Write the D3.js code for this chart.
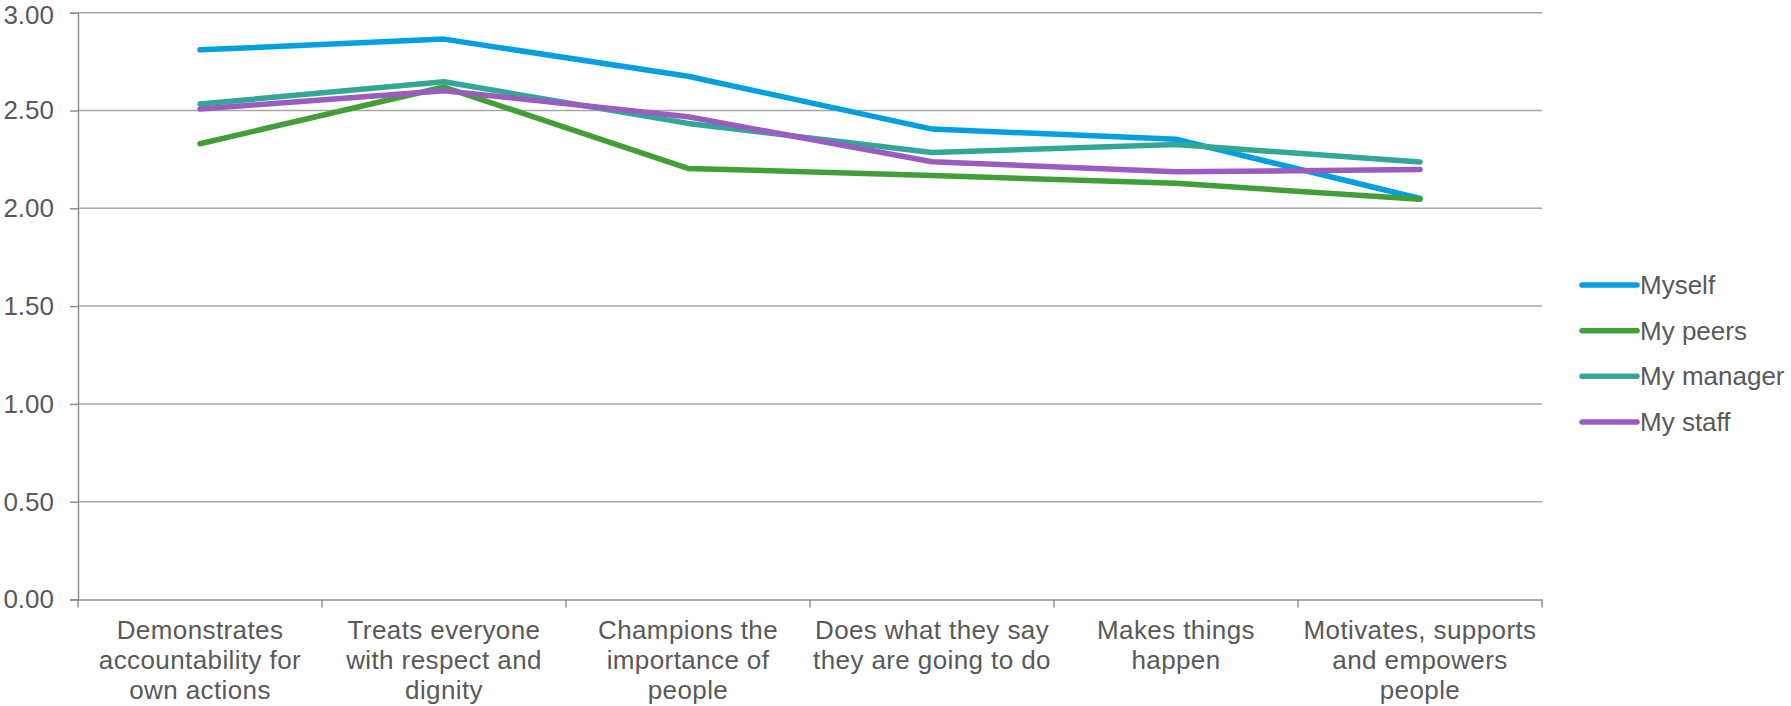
<!DOCTYPE html>
<html>
<head>
<meta charset="utf-8">
<script src="https://cdn.jsdelivr.net/npm/d3@7"></script>
<style>
  html, body { margin: 0; padding: 0; background: #fff; }
  svg { display: block; font-family: "Liberation Sans", Arial, sans-serif; }
</style>
</head>
<body>
<svg id="chart" width="1791" height="706"></svg>
<script>
const categories = [
  "Demonstrates\naccountability for\nown actions",
  "Treats everyone\nwith respect and\ndignity",
  "Champions the\nimportance of\npeople",
  "Does what they say\nthey are going to do",
  "Makes things\nhappen",
  "Motivates, supports\nand empowers\npeople"
];
const seriesNames = ["Myself", "My peers", "My manager", "My staff"];
const myself    = [2.81, 2.865, 2.675, 2.405, 2.353, 2.05];
const myPeers   = [2.33, 2.62, 2.204, 2.168, 2.128, 2.046];
const myManager = [2.533, 2.647, 2.434, 2.285, 2.326, 2.237];
const myStaff   = [2.508, 2.601, 2.468, 2.238, 2.187, 2.198];
const yTicks = [0, 0.5, 1.0, 1.5, 2.0, 2.5, 3.0];
const colors = ["#009fe0", "#429e36", "#33a797", "#9b5cc0"];

(function() {
const seriesValues = [myself, myPeers, myManager, myStaff];

const svg = d3.select("#chart");
const pLeft = 78, pRight = 1542, pTop = 12.7, pBottom = 599.5;
const textColor = "#595959";

const x = d3.scaleBand().domain(categories).range([pLeft, pRight]).padding(0);
const y = d3.scaleLinear().domain([0, 3]).range([pBottom, pTop]);

// gridlines
svg.append("g").selectAll("line").data(yTicks.filter(d => d > 0)).join("line")
  .attr("x1", pLeft).attr("x2", pRight)
  .attr("y1", d => y(d)).attr("y2", d => y(d))
  .attr("stroke", "#a6a6a6").attr("stroke-width", 1.5);

// y axis
const yAxis = svg.append("g").attr("transform", `translate(${pLeft},0)`)
  .call(d3.axisLeft(y).tickValues(yTicks).tickFormat(d3.format(".2f")).tickSize(8).tickPadding(16));
yAxis.select(".domain").attr("stroke", "#8f8f8f").attr("stroke-width", 1.5);
yAxis.selectAll(".tick line").attr("stroke", "#8f8f8f").attr("stroke-width", 1.5);
yAxis.selectAll(".tick text").attr("fill", textColor).style("font-size", "26px")
  .style("font-family", "'Liberation Sans', Arial, sans-serif");
yAxis.selectAll(".tick text").filter(d => d === 3).attr("dy", "0.36em").attr("y", 1.5);

// x axis
const xAxis = svg.append("g").attr("transform", `translate(0,${pBottom})`)
  .call(d3.axisBottom(x).tickSize(0).tickFormat(""));
xAxis.select(".domain").attr("stroke", "#8f8f8f").attr("stroke-width", 1.5);
const bounds = [pLeft].concat(categories.map(c => x(c) + x.bandwidth()));
xAxis.selectAll(".bt").data(bounds).join("line").attr("class", "bt")
  .attr("x1", d => d).attr("x2", d => d).attr("y1", 0).attr("y2", 8)
  .attr("stroke", "#8f8f8f").attr("stroke-width", 1.5);

// category labels
const lab = svg.append("g").selectAll("text").data(categories).join("text")
  .attr("x", d => x(d) + x.bandwidth() / 2)
  .attr("y", 639)
  .attr("text-anchor", "middle")
  .attr("fill", textColor)
  .style("font-size", "26px")
  .style("letter-spacing", "0.4px");
lab.each(function(d) {
  const t = d3.select(this);
  d.split("\n").forEach((ln, i) => {
    t.append("tspan").attr("x", x(d) + x.bandwidth() / 2).attr("dy", i === 0 ? 0 : 30).text(ln);
  });
});

// lines
const line = d3.line()
  .x((d, i) => x(categories[i]) + x.bandwidth() / 2)
  .y(d => y(d));
svg.append("g").selectAll("path").data(seriesValues).join("path")
  .attr("d", d => line(d))
  .attr("fill", "none")
  .attr("stroke", (d, i) => colors[i])
  .attr("stroke-width", 5.5)
  .attr("stroke-linecap", "round")
  .attr("stroke-linejoin", "round");

// legend
const legendY = d3.scalePoint().domain(seriesNames).range([285, 422]);
const lg = svg.append("g").selectAll("g").data(seriesNames).join("g")
  .attr("transform", d => `translate(0,${legendY(d)})`);
lg.append("line").attr("x1", 1582).attr("x2", 1637).attr("y1", 0).attr("y2", 0)
  .attr("stroke", (d, i) => colors[i]).attr("stroke-width", 5.5).attr("stroke-linecap", "round");
lg.append("text").attr("x", 1640).attr("y", 0).attr("dy", "0.35em")
  .attr("fill", textColor).style("font-size", "26px").text(d => d);
})();
</script>
</body>
</html>
